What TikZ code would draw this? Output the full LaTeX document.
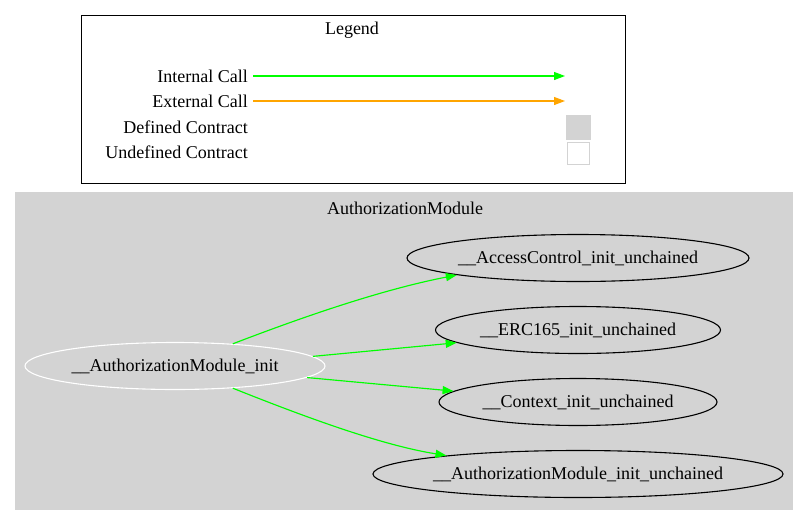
\documentclass[tikz,border=0pt]{standalone}
\usepackage{fontspec}
\setmainfont{Liberation Serif}
\usetikzlibrary{arrows.meta,positioning,shapes.geometric}
\definecolor{gvgray}{HTML}{D3D3D3}
\definecolor{gvgreen}{HTML}{00FF00}
\definecolor{gvorange}{HTML}{FFA500}

\begin{document}
\begin{tikzpicture}[x=1pt, y=-1pt,
  font=\fontsize{18}{21}\selectfont,
  fn/.style={draw, ellipse, line width=1.1pt, inner sep=0pt, minimum height=47pt},
  lbl/.style={anchor=east, inner sep=0pt},
  call/.style={-{Triangle[length=11pt,width=8pt]}, line width=1.15pt},
  key/.style={minimum size=25pt, inner sep=0pt}]
\useasboundingbox (0,0) rectangle (808,525);
% legend
\node[draw, line width=1.2pt, minimum width=544pt, minimum height=168pt,
  anchor=north west] (leg) at (81,15) {};
\node (legt) at (352,30) {Legend};
\node[lbl] (int) at (248,76) {Internal Call};
\node[lbl] (ext) at (248,101) {External Call};
\node[lbl] (def) at (248,127) {Defined Contract};
\node[lbl] (und) at (248,152) {Undefined Contract};
\coordinate (intend) at (565,76);
\coordinate (extend) at (565,101);
\node[key, fill=gvgray] (defkey) at (578,127) {};
\node[key, draw=gvgray, minimum size=22pt, line width=1pt] (undkey) at (578,153) {};
\draw[call, gvgreen] ([xshift=5pt]int.east) -- (intend);
\draw[call, gvorange] ([xshift=5pt]ext.east) -- (extend);
% cluster
\node[fill=gvgray, minimum width=778pt, minimum height=318pt, inner sep=0pt,
  anchor=north west] (mod) at (15,192) {};
\node (modt) at (405,208) {AuthorizationModule};
\node[fn, draw=white, minimum width=300pt] (init) at (175,366) {\_\_AuthorizationModule\_init};
\node[fn, minimum width=342pt] (ac) at (578,258) {\_\_AccessControl\_init\_unchained};
\node[fn, minimum width=285pt] (erc) at (578,330) {\_\_ERC165\_init\_unchained};
\node[fn, minimum width=278pt] (ctx) at (578,402) {\_\_Context\_init\_unchained};
\node[fn, minimum width=408pt] (amiu) at (578,474) {\_\_AuthorizationModule\_init\_unchained};
% calls
\draw[call, gvgreen] (init.21) .. controls (300,318) and (380,290) .. (ac.188);
\draw[call, gvgreen] (init.4.7) -- (erc.186);
\draw[call, gvgreen] (init.355.3) -- (ctx.175);
\draw[call, gvgreen] (init.339) .. controls (300,415) and (380,445) .. (amiu.172);
\end{tikzpicture}
\end{document}
